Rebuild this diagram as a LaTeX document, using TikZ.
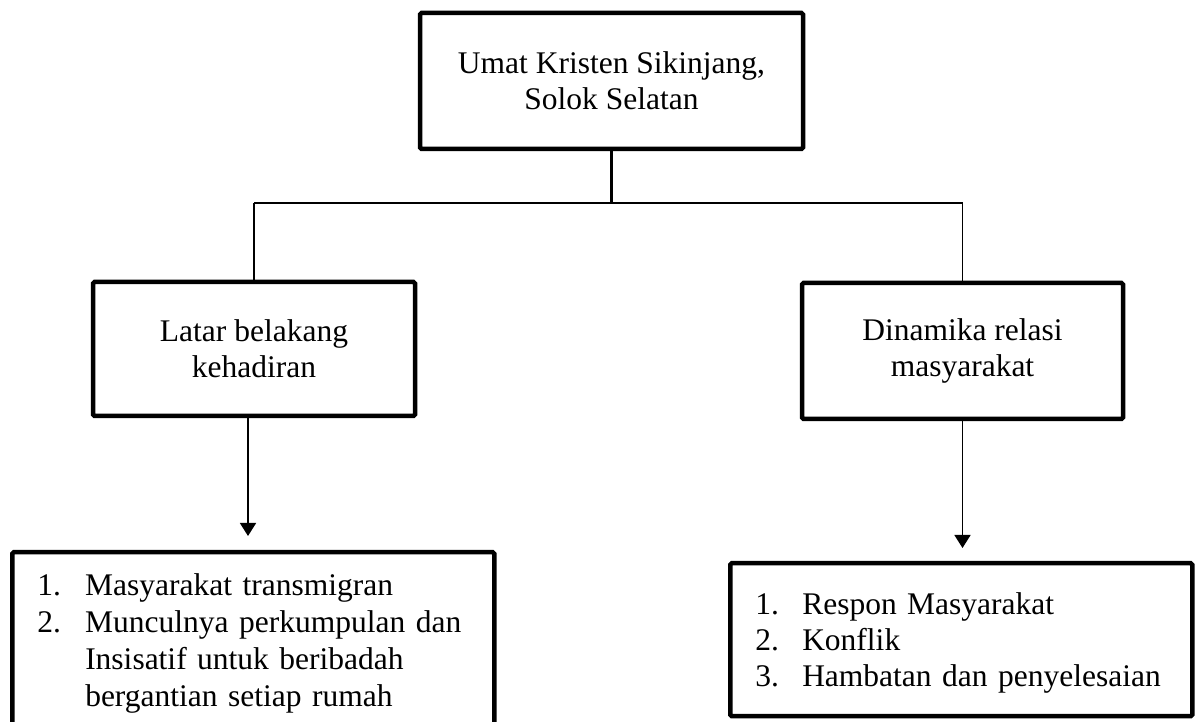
\documentclass[tikz,border=0pt]{standalone}
\usepackage{fontspec}
\setmainfont{Liberation Serif}
\usetikzlibrary{arrows.meta,calc}
\tikzset{
  boxnode/.style={draw, line width=4.5pt, rounded corners=1.5pt, inner sep=0pt,
    align=center, font=\fontsize{31.5}{36}\selectfont},
  listnode/.style={draw, line width=4.5pt, rounded corners=1.5pt, inner ysep=0pt,
    inner xsep=25pt, align=left, font=\fontsize{31.5}{37}\selectfont},
  connthick/.style={line width=2.6pt},
  connmid/.style={line width=2pt},
  connthin/.style={line width=1.5pt},
  arrowline/.style={line width=1.6pt, -{Triangle[width=16pt,length=13pt]}}
}
\begin{document}
\begin{tikzpicture}[x=1pt,y=1pt]
\clip (0,0) rectangle (1197,722);
\fill[white] (0,0) rectangle (1197,722);

\node[boxnode, minimum width=383pt, minimum height=136pt] (top) at (611.5,641)
  {Umat Kristen Sikinjang,\\Solok Selatan};
\node[boxnode, minimum width=322pt, minimum height=134pt] (latar) at (254,373)
  {Latar belakang\\kehadiran};
\node[boxnode, minimum width=321pt, minimum height=136pt] (dinamika) at (962.5,371)
  {Dinamika relasi\\masyarakat};

\node[listnode, text width=432pt, anchor=north west] (bl) at (10,172)
  {\rule{0pt}{43pt}\makebox[48pt][l]{1.}\mbox{Masyarakat transmigran}\\
   \makebox[48pt][l]{2.}\mbox{Munculnya perkumpulan dan}\\
   \hspace*{48pt}\mbox{Insisatif untuk beribadah}\\
   \hspace*{48pt}\mbox{bergantian setiap rumah}\rule[-45pt]{0pt}{0pt}};

\node[listnode, text width=412pt, anchor=north west, font=\fontsize{31.5}{36}\selectfont] (br) at (728,161)
  {\rule{0pt}{51pt}\makebox[47pt][l]{1.}\mbox{Respon Masyarakat}\\
   \makebox[47pt][l]{2.}\mbox{Konflik}\\
   \makebox[47pt][l]{3.}\mbox{Hambatan dan penyelesaian}\rule[-30pt]{0pt}{0pt}};

\coordinate (jl) at (254,519);
\coordinate (jr) at (962.5,519);
\coordinate (jm) at (top.south |- jl);

\draw[connthick] (top.south) -- (jm);
\draw[connmid] (jl) -- (jr);
\draw[connmid] (jl) -- (latar.north);
\draw[connthin] (jr) -- (dinamika.north);

\draw[arrowline, shorten >=14pt] ([xshift=-6pt]latar.south) -- ([xshift=-6pt]latar.south |- bl.north);
\draw[arrowline, shorten >=13pt] (dinamika.south) -- (dinamika.south |- br.north);
\end{tikzpicture}
\end{document}
